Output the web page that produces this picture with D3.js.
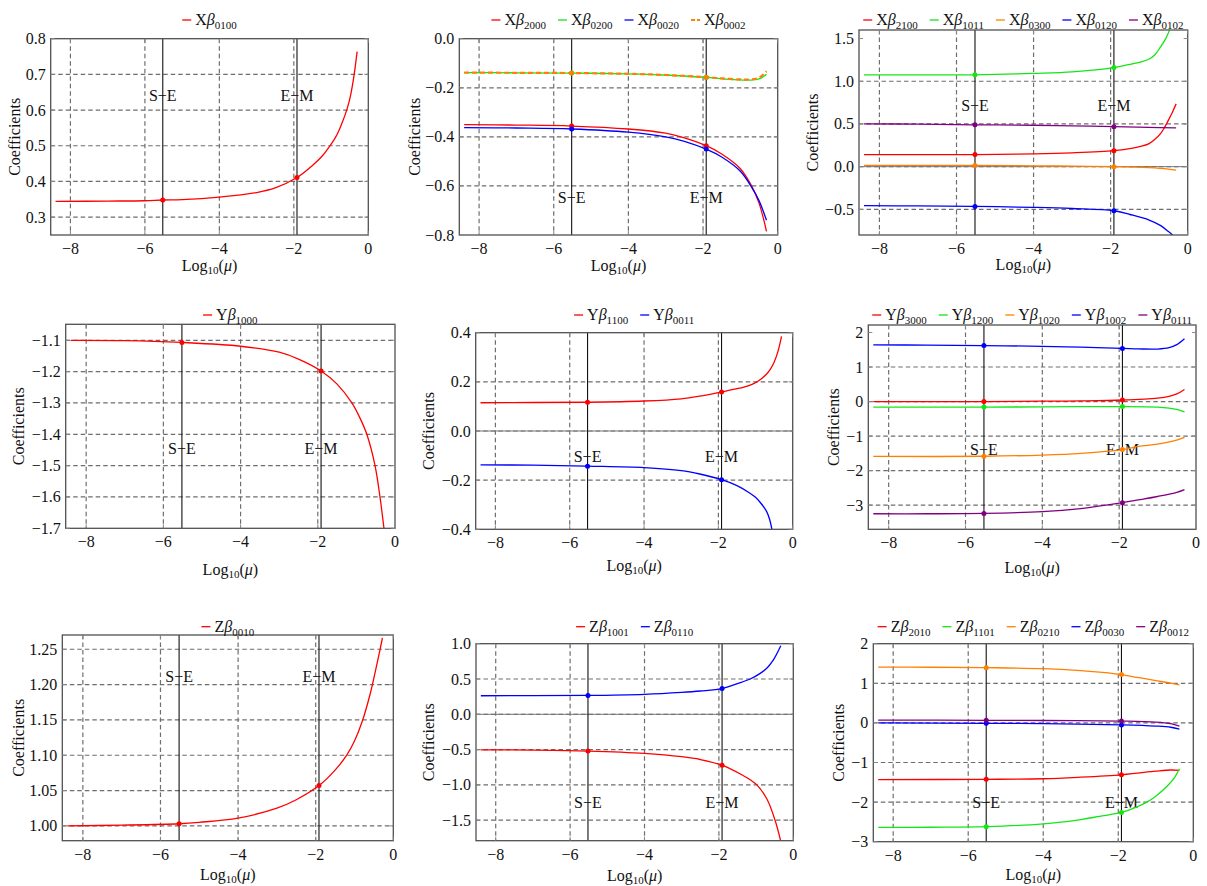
<!DOCTYPE html>
<html>
<head>
<meta charset="utf-8">
<script src="https://cdn.jsdelivr.net/npm/d3@7"></script>
<style>
  html,body{margin:0;padding:0;background:#fff;}
  svg{display:block;}
</style>
</head>
<body>
<svg id="chart" width="1207" height="886"></svg>
<script>
// ---------------- DATA ----------------
const xTicks = [-8, -6, -4, -2, 0];
const xTickLabels = ["\u22128", "\u22126", "\u22124", "\u22122", "0"];
const xGrid = [-8, -6, -4, -2];
const muSE = -5.52;   // log10(mu) Sun-Earth
const muEM = -1.915;  // log10(mu) Earth-Moon

// Panel 1
const xb0100 = [[-8.4,0.344],[-7,0.345],[-6,0.346],[-5.52,0.348],[-5,0.349],[-4,0.356],[-3,0.369],[-2.5,0.382],[-1.915,0.411],[-1.5,0.445],[-1.25,0.47],[-1.03,0.5],[-0.9,0.52],[-0.8,0.54],[-0.7,0.565],[-0.58,0.6],[-0.5,0.63],[-0.45,0.655],[-0.386,0.695],[-0.3,0.764]];
// Panel 2
const xb2000 = [[-8.4,-0.350],[-7,-0.352],[-5.52,-0.356],[-4,-0.368],[-3,-0.385],[-2.5,-0.404],[-1.915,-0.436],[-1.5,-0.47],[-1,-0.53],[-0.7,-0.6],[-0.5,-0.67],[-0.3,-0.785]];
const xb0200 = [[-8.4,-0.138],[-7,-0.139],[-5.52,-0.140],[-4,-0.143],[-3,-0.148],[-1.915,-0.158],[-1.5,-0.163],[-1,-0.168],[-0.75,-0.169],[-0.5,-0.164],[-0.3,-0.145]];
const xb0020 = [[-8.4,-0.362],[-7,-0.364],[-5.52,-0.368],[-4,-0.381],[-3,-0.400],[-2.5,-0.418],[-1.915,-0.450],[-1.5,-0.482],[-1,-0.54],[-0.7,-0.605],[-0.5,-0.66],[-0.3,-0.74]];
const xb0002 = [[-8.4,-0.138],[-7,-0.139],[-5.52,-0.140],[-4,-0.143],[-3,-0.148],[-1.915,-0.157],[-1.5,-0.162],[-1,-0.166],[-0.75,-0.166],[-0.5,-0.159],[-0.3,-0.133]];
// Panel 3
const xb2100 = [[-8.4,0.141],[-7,0.141],[-5.52,0.142],[-4,0.150],[-3,0.162],[-1.915,0.187],[-1.5,0.212],[-1.2,0.24],[-1,0.27],[-0.85,0.32],[-0.7,0.39],[-0.6,0.46],[-0.5,0.545],[-0.4,0.635],[-0.3,0.735]];
const xb1011 = [[-8.4,1.074],[-7,1.074],[-5.52,1.075],[-4,1.092],[-3,1.11],[-1.915,1.16],[-1.5,1.198],[-1.2,1.228],[-1,1.26],[-0.85,1.31],[-0.7,1.405],[-0.58,1.49],[-0.47,1.6]];
const xb0300 = [[-8.4,0.015],[-5.52,0.014],[-4,0.01],[-3,0.006],[-1.915,0.0],[-1,-0.012],[-0.5,-0.028],[-0.3,-0.04]];
const xb0120 = [[-8.4,-0.457],[-7,-0.459],[-5.52,-0.465],[-4,-0.477],[-3,-0.49],[-1.915,-0.516],[-1.5,-0.56],[-1,-0.625],[-0.7,-0.69],[-0.5,-0.76],[-0.39,-0.8]];
const xb0102 = [[-8.4,0.5],[-7,0.498],[-5.52,0.49],[-4,0.485],[-3,0.478],[-1.915,0.468],[-1,0.46],[-0.3,0.455]];
// Panel 4
const yb1000 = [[-8.4,-1.100],[-7,-1.101],[-5.52,-1.107],[-4,-1.119],[-3,-1.138],[-2.5,-1.16],[-1.915,-1.198],[-1.5,-1.24],[-1.117,-1.3],[-0.9,-1.35],[-0.73,-1.4],[-0.517,-1.5],[-0.389,-1.6],[-0.286,-1.7]];
// Panel 5
const yb1100 = [[-8.4,0.115],[-7,0.116],[-5.52,0.117],[-4,0.122],[-3,0.131],[-2.5,0.142],[-1.915,0.159],[-1.5,0.172],[-1.2,0.184],[-1,0.197],[-0.85,0.212],[-0.7,0.232],[-0.6,0.252],[-0.5,0.28],[-0.4,0.322],[-0.3,0.385]];
const yb0011 = [[-8.4,-0.138],[-7,-0.139],[-5.52,-0.143],[-4,-0.149],[-3,-0.161],[-2.5,-0.175],[-1.915,-0.198],[-1.5,-0.222],[-1.2,-0.248],[-1,-0.27],[-0.85,-0.295],[-0.7,-0.328],[-0.62,-0.36],[-0.56,-0.4]];
// Panel 6
const yb3000 = [[-8.4,0.0],[-5.52,0.0],[-4,0.01],[-3,0.02],[-1.915,0.045],[-1,0.1],[-0.7,0.15],[-0.5,0.22],[-0.3,0.35]];
const yb1200 = [[-8.4,-0.16],[-5.52,-0.16],[-4,-0.155],[-1.915,-0.145],[-1,-0.16],[-0.7,-0.19],[-0.5,-0.23],[-0.3,-0.30]];
const yb1020 = [[-8.4,-1.59],[-5.52,-1.585],[-4,-1.55],[-3,-1.5],[-1.915,-1.39],[-1.5,-1.3],[-1,-1.23],[-0.5,-1.115],[-0.3,-1.04]];
const yb1002 = [[-8.4,1.64],[-7,1.635],[-5.52,1.62],[-4,1.6],[-3,1.575],[-1.915,1.54],[-1.5,1.525],[-1,1.52],[-0.7,1.56],[-0.5,1.65],[-0.3,1.82]];
const yb0111 = [[-8.4,-3.25],[-7,-3.25],[-5.52,-3.24],[-4,-3.19],[-3,-3.1],[-1.915,-2.93],[-1.5,-2.85],[-1,-2.75],[-0.5,-2.63],[-0.3,-2.55]];
// Panel 7
const zb0010 = [[-8.4,1.0],[-7,1.001],[-5.52,1.003],[-5,1.005],[-4,1.011],[-3,1.025],[-2.5,1.037],[-1.915,1.057],[-1.5,1.079],[-1.2,1.10],[-1,1.12],[-0.8,1.148],[-0.6,1.186],[-0.45,1.222],[-0.34,1.25],[-0.28,1.266]];
// Panel 8
const zb1001 = [[-8.4,-0.503],[-7,-0.507],[-5.52,-0.52],[-4,-0.553],[-3,-0.60],[-2.5,-0.64],[-1.915,-0.72],[-1.34,-0.87],[-1.15,-0.93],[-0.98,-1.0],[-0.71,-1.2],[-0.49,-1.5],[-0.336,-1.8]];
const zb0110 = [[-8.4,0.263],[-7,0.264],[-5.52,0.267],[-4,0.283],[-3,0.31],[-2.5,0.33],[-1.915,0.365],[-1.5,0.435],[-1.16,0.5],[-0.89,0.58],[-0.7,0.66],[-0.535,0.77],[-0.336,0.97]];
// Panel 9
const zb2010 = [[-8.4,-1.43],[-5.52,-1.425],[-4,-1.41],[-3,-1.37],[-1.915,-1.31],[-1.5,-1.27],[-1,-1.22],[-0.6,-1.19],[-0.37,-1.20]];
const zb1101 = [[-8.4,-2.64],[-7,-2.635],[-5.52,-2.62],[-4,-2.55],[-3,-2.44],[-2.5,-2.36],[-1.915,-2.26],[-1.5,-2.12],[-1.24,-2.0],[-1,-1.85],[-0.7,-1.6],[-0.5,-1.38],[-0.37,-1.16]];
const zb0210 = [[-8.4,1.41],[-7,1.405],[-5.52,1.395],[-4,1.37],[-3,1.32],[-2.5,1.28],[-1.915,1.22],[-1.5,1.15],[-1,1.07],[-0.7,1.02],[-0.37,0.96]];
const zb0030 = [[-8.4,0.0],[-5.52,-0.01],[-4,-0.02],[-1.915,-0.05],[-1,-0.08],[-0.6,-0.11],[-0.37,-0.16]];
const zb0012 = [[-8.4,0.072],[-5.52,0.066],[-4,0.06],[-1.915,0.045],[-1,0.02],[-0.6,-0.02],[-0.37,-0.08]];

// y ticks per panel
const yTicks1 = [0.3,0.4,0.5,0.6,0.7,0.8], yLab1 = ["0.3","0.4","0.5","0.6","0.7","0.8"];
const yTicks2 = [0,-0.2,-0.4,-0.6,-0.8], yLab2 = ["0.0","\u22120.2","\u22120.4","\u22120.6","\u22120.8"];
const yTicks3 = [1.5,1.0,0.5,0,-0.5], yLab3 = ["1.5","1.0","0.5","0.0","\u22120.5"];
const yTicks4 = [-1.1,-1.2,-1.3,-1.4,-1.5,-1.6,-1.7], yLab4 = ["\u22121.1","\u22121.2","\u22121.3","\u22121.4","\u22121.5","\u22121.6","\u22121.7"];
const yTicks5 = [0.4,0.2,0,-0.2,-0.4], yLab5 = ["0.4","0.2","0.0","\u22120.2","\u22120.4"];
const yTicks6 = [2,1,0,-1,-2,-3], yLab6 = ["2","1","0","\u22121","\u22122","\u22123"];
const yTicks7 = [1.0,1.05,1.1,1.15,1.2,1.25], yLab7 = ["1.00","1.05","1.10","1.15","1.20","1.25"];
const yTicks8 = [1.0,0.5,0,-0.5,-1.0,-1.5], yLab8 = ["1.0","0.5","0.0","\u22120.5","\u22121.0","\u22121.5"];
const yTicks9 = [2,1,0,-1,-2,-3], yLab9 = ["2","1","0","\u22121","\u22122","\u22123"];

// ---------------- STYLE / LAYOUT ----------------
const RED="#ff0000", GREEN="#14e614", BLUE="#0000ff", ORANGE="#ff8000", PURPLE="#800080";
const FONT = "'Liberation Serif','Times New Roman',serif";

const panels = [
  {L:50.7,R:368.3,T:38.7,B:235, yDom:[0.25,0.8], yt:yTicks1, yl:yLab1, grid:[0.3,0.4,0.5,0.6,0.7], zero:false, lab:0.642, legY:20, ylabX:14, xlabY:268.3,
   series:[{c:"X",s:"0100",d:xb0100,col:RED}]},
  {L:459.3,R:777.7,T:38.7,B:235, yDom:[-0.8,0.0], yt:yTicks2, yl:yLab2, grid:[-0.2,-0.4,-0.6], zero:false, lab:-0.647, legY:20, ylabX:414, xlabY:268.3,
   series:[{c:"X",s:"2000",d:xb2000,col:RED},{c:"X",s:"0200",d:xb0200,col:GREEN},{c:"X",s:"0020",d:xb0020,col:BLUE},{c:"X",s:"0002",d:xb0002,col:ORANGE,dash:true}]},
  {L:859,R:1187.7,T:30,B:235, yDom:[-0.8,1.6], yt:yTicks3, yl:yLab3, grid:[1.0,0.5,0,-0.5], zero:true, lab:0.715, legY:20, ylabX:812, xlabY:266.7,
   series:[{c:"X",s:"2100",d:xb2100,col:RED},{c:"X",s:"1011",d:xb1011,col:GREEN},{c:"X",s:"0300",d:xb0300,col:ORANGE},{c:"X",s:"0120",d:xb0120,col:BLUE},{c:"X",s:"0102",d:xb0102,col:PURPLE}]},
  {L:65.7,R:395,T:324.3,B:528.3, yDom:[-1.7,-1.049], yt:yTicks4, yl:yLab4, grid:[-1.1,-1.2,-1.3,-1.4,-1.5,-1.6], zero:false, lab:-1.446, legY:315, ylabX:18, xlabY:571.7,
   series:[{c:"Y",s:"1000",d:yb1000,col:RED}]},
  {L:475.7,R:792.7,T:332.7,B:529.3, yDom:[-0.4,0.4], yt:yTicks5, yl:yLab5, grid:[0.2,0,-0.2], zero:true, lab:-0.102, legY:315, ylabX:428, xlabY:568.3,
   series:[{c:"Y",s:"1100",d:yb1100,col:RED},{c:"Y",s:"0011",d:yb0011,col:BLUE}]},
  {L:868.3,R:1196,T:325,B:529.3, yDom:[-3.7,2.217], yt:yTicks6, yl:yLab6, grid:[1,0,-1,-2,-3], zero:false, lab:-1.377, legY:315, ylabX:833, xlabY:570,
   series:[{c:"Y",s:"3000",d:yb3000,col:RED},{c:"Y",s:"1200",d:yb1200,col:GREEN},{c:"Y",s:"1020",d:yb1020,col:ORANGE},{c:"Y",s:"1002",d:yb1002,col:BLUE},{c:"Y",s:"0111",d:yb0111,col:PURPLE}]},
  {L:62.3,R:393.3,T:635,B:840.7, yDom:[0.979,1.2702], yt:yTicks7, yl:yLab7, grid:[1.0,1.05,1.1,1.15,1.2,1.25], zero:false, lab:1.211, legY:626.7, ylabX:18, xlabY:876.7,
   series:[{c:"Z",s:"0010",d:zb0010,col:RED}]},
  {L:476,R:793.3,T:643.7,B:840.7, yDom:[-1.79,1.0], yt:yTicks8, yl:yLab8, grid:[0.5,0,-0.5,-1.0,-1.5], zero:true, lab:-1.25, legY:626.7, ylabX:428, xlabY:877.7,
   series:[{c:"Z",s:"1001",d:zb1001,col:RED},{c:"Z",s:"0110",d:zb0110,col:BLUE}]},
  {L:873.3,R:1193.3,T:643.7,B:841.7, yDom:[-3,2], yt:yTicks9, yl:yLab9, grid:[1,0,-1,-2], zero:false, lab:-2.007, legY:626.7, ylabX:838, xlabY:876.7,
   series:[{c:"Z",s:"2010",d:zb2010,col:RED},{c:"Z",s:"1101",d:zb1101,col:GREEN},{c:"Z",s:"0210",d:zb0210,col:ORANGE},{c:"Z",s:"0030",d:zb0030,col:BLUE},{c:"Z",s:"0012",d:zb0012,col:PURPLE}]}
];

// ---------------- DRAW ----------------
const svg = d3.select("#chart").style("font-family", FONT);
const defs = svg.append("defs");

panels.forEach((p, i) => {
  const x = d3.scaleLinear().domain([-8.53, 0]).range([p.L, p.R]);
  const y = d3.scaleLinear().domain(p.yDom).range([p.B, p.T]);
  const g = svg.append("g");

  const cid = "clip" + i;
  defs.append("clipPath").attr("id", cid).append("rect")
    .attr("x", p.L).attr("y", p.T).attr("width", p.R - p.L).attr("height", p.B - p.T);

  // grid
  const grid = g.append("g").attr("clip-path", `url(#${cid})`);
  grid.selectAll("line.v").data(xGrid).join("line")
    .attr("x1", d => x(d)).attr("x2", d => x(d)).attr("y1", p.T).attr("y2", p.B)
    .attr("stroke", "#6e6e6e").attr("stroke-width", 1.2).attr("stroke-dasharray", "4.5,3");
  grid.selectAll("line.h").data(p.grid).join("line")
    .attr("x1", p.L).attr("x2", p.R).attr("y1", d => y(d)).attr("y2", d => y(d))
    .attr("stroke", "#6e6e6e").attr("stroke-width", 1.2).attr("stroke-dasharray", "4.5,3");
  if (p.zero) {
    grid.append("line").attr("x1", p.L).attr("x2", p.R).attr("y1", y(0)).attr("y2", y(0))
      .attr("stroke", "#777").attr("stroke-width", 1);
  }

  // S-E / E-M vertical lines
  [muSE, muEM].forEach(m => {
    g.append("line").attr("x1", x(m)).attr("x2", x(m)).attr("y1", p.T).attr("y2", p.B)
      .attr("stroke", "#111").attr("stroke-width", 1.1);
  });
  [["S\u2212E", muSE], ["E\u2212M", muEM]].forEach(([t, m]) => {
    g.append("text").attr("x", x(m)).attr("y", y(p.lab) + 5.5)
      .attr("text-anchor", "middle").attr("font-size", 16).attr("fill", "#111").text(t);
  });

  // curves
  const line = d3.line().x(d => x(d[0])).y(d => y(d[1])).curve(d3.curveCatmullRom.alpha(0.5));
  const cg = g.append("g").attr("clip-path", `url(#${cid})`);
  p.series.forEach(s => {
    cg.append("path").attr("d", line(s.d)).attr("fill", "none")
      .attr("stroke", s.col).attr("stroke-width", s.dash ? 2.2 : 1.3)
      .attr("stroke-dasharray", s.dash ? "5,3" : null);
  });
  p.series.forEach(s => {
    const pts = s.d.filter(d => d[0] === muSE || d[0] === muEM);
    cg.selectAll(null).data(pts).join("circle")
      .attr("cx", d => x(d[0])).attr("cy", d => y(d[1])).attr("r", 2.5)
      .attr("fill", s.col);
  });

  // frame
  g.append("rect").attr("x", p.L).attr("y", p.T).attr("width", p.R - p.L).attr("height", p.B - p.T)
    .attr("fill", "none").attr("stroke", "#505050").attr("stroke-width", 1.3);

  // ticks (small, inward)
  xTicks.forEach(t => {
    g.append("line").attr("x1", x(t)).attr("x2", x(t)).attr("y1", p.B).attr("y2", p.B - 4).attr("stroke", "#888");
    g.append("line").attr("x1", x(t)).attr("x2", x(t)).attr("y1", p.T).attr("y2", p.T + 4).attr("stroke", "#888");
  });
  p.yt.forEach(t => {
    g.append("line").attr("x1", p.L).attr("x2", p.L + 4).attr("y1", y(t)).attr("y2", y(t)).attr("stroke", "#888");
    g.append("line").attr("x1", p.R).attr("x2", p.R - 4).attr("y1", y(t)).attr("y2", y(t)).attr("stroke", "#888");
  });

  // tick labels
  g.selectAll("text.xt").data(xTicks).join("text")
    .attr("x", d => x(d)).attr("y", p.B + 19).attr("text-anchor", "middle")
    .attr("font-size", 16).attr("fill", "#111").text((d, k) => xTickLabels[k]);
  g.selectAll("text.yt").data(p.yt).join("text")
    .attr("x", p.L - 5).attr("y", d => y(d) + 5.5).attr("text-anchor", "end")
    .attr("font-size", 16).attr("fill", "#111").text((d, k) => p.yl[k]);

  // axis labels
  const cx = (p.L + p.R) / 2, cy = (p.T + p.B) / 2;
  g.append("text").attr("transform", `translate(${p.ylabX + 5.5},${cy}) rotate(-90)`)
    .attr("text-anchor", "middle").attr("font-size", 16).attr("fill", "#111").text("Coefficients");
  const xl = g.append("text").attr("x", cx).attr("y", p.xlabY + 3).attr("text-anchor", "middle")
    .attr("font-size", 16).attr("fill", "#111");
  xl.append("tspan").text("Log");
  xl.append("tspan").attr("font-size", 11).attr("dy", 3).text("10");
  xl.append("tspan").attr("dy", -3).text("(");
  xl.append("tspan").attr("font-style", "italic").text("\u03bc");
  xl.append("tspan").text(")");

  // legend
  const lg = g.append("g");
  let lx = 0;
  const segLen = 9;
  p.series.forEach(s => {
    const it = lg.append("g").attr("transform", `translate(${lx},0)`);
    it.append("line").attr("x1", 0).attr("x2", segLen).attr("y1", p.legY).attr("y2", p.legY)
      .attr("stroke", s.col).attr("stroke-width", s.dash ? 2.2 : 1.3)
      .attr("stroke-dasharray", s.dash ? "4,2" : null);
    const t = it.append("text").attr("x", segLen + 4).attr("y", p.legY + 5).attr("font-size", 16).attr("fill", "#111");
    t.append("tspan").text(s.c);
    t.append("tspan").attr("font-style", "italic").text("\u03b2");
    t.append("tspan").attr("font-size", 11).attr("dy", 4).text(s.s);
    const w = segLen + 4 + t.node().getComputedTextLength();
    lx += w + 12;
  });
  const tot = lx - 12;
  lg.attr("transform", `translate(${cx - tot / 2},0)`);
});
</script>
</body>
</html>
